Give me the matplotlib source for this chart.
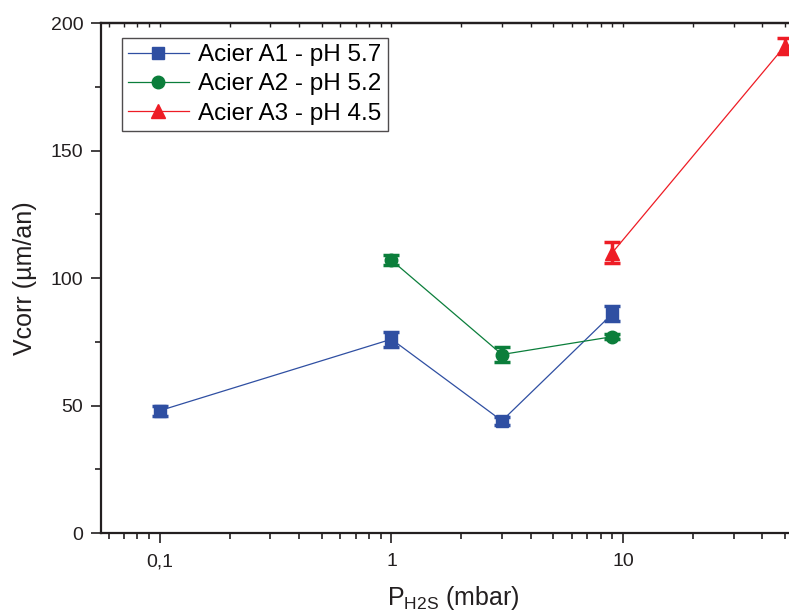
import matplotlib.pyplot as plt
from matplotlib.lines import Line2D
from matplotlib.ticker import FixedLocator, FixedFormatter, LogLocator, NullFormatter

plt.rcParams['font.family'] = ['Liberation Sans', 'DejaVu Sans']
plt.rcParams['mathtext.fontset'] = 'custom'
plt.rcParams['mathtext.rm'] = 'Liberation Sans'
plt.rcParams['mathtext.it'] = 'Liberation Sans'

# data
a1_p = [0.1, 1, 3, 9]
a1_v = [48, 76, 44, 86]
a1_err = [2, 3, 1.5, 3]

a2_p = [1, 3, 9]
a2_v = [107, 70, 77]
a2_err = [2, 3, 1]

a3_p = [9, 50]
a3_v = [110, 191]
a3_err = [4, 3]

x_ticks = [0.1, 1, 10]
x_ticklabels = ['0,1', '1', '10']
y_ticks = [0, 50, 100, 150, 200]
y_minor = [25, 75, 125, 175]

ink = '#231f20'

fig = plt.figure(figsize=(7.89, 6.15), dpi=100)
ax = fig.add_axes([0.1276, 0.1333, 0.894, 0.8293])

series = [
    (a1_p, a1_v, a1_err, '#2f4fa2', 's', 8, 'Acier A1 - pH 5.7'),
    (a2_p, a2_v, a2_err, '#0b7e3b', 'o', 9, 'Acier A2 - pH 5.2'),
    (a3_p, a3_v, a3_err, '#ee1c25', '^', 10, 'Acier A3 - pH 4.5'),
]
handles = []
for p, v, e, c, m, ms, lab in series:
    ax.errorbar(p, v, yerr=e, color=c, marker=m, markersize=ms, lw=0.9,
                elinewidth=2.5, capsize=6, capthick=2.5, clip_on=False)
    handles.append(Line2D([], [], color=c, marker=m, markersize=ms, lw=0.9, label=lab))

ax.set_xscale('log')
ax.set_xlim(0.0555, 61.7)
ax.set_ylim(0, 200)

ax.xaxis.set_major_locator(FixedLocator(x_ticks))
ax.xaxis.set_major_formatter(FixedFormatter(x_ticklabels))
ax.xaxis.set_minor_locator(LogLocator(base=10, subs=range(2, 10), numticks=20))
ax.xaxis.set_minor_formatter(NullFormatter())
ax.set_yticks(y_ticks)
ax.set_yticks(y_minor, minor=True)

ax.tick_params(axis='both', which='major', direction='out', length=7.5, width=1.2,
               labelsize=14, colors=ink, pad=5)
ax.tick_params(axis='both', which='minor', direction='out', length=4.5, width=1.2, colors=ink)
ax.tick_params(axis='x', which='major', pad=7)
for s in ax.spines.values():
    s.set_linewidth(1.6)
    s.set_color(ink)
ax.spines['right'].set_visible(False)

# small inward ticks along the top frame
top = ax.secondary_xaxis('top')
top.xaxis.set_major_locator(FixedLocator(x_ticks))
top.xaxis.set_minor_locator(LogLocator(base=10, subs=range(2, 10), numticks=20))
top.xaxis.set_major_formatter(NullFormatter())
top.xaxis.set_minor_formatter(NullFormatter())
top.tick_params(which='both', direction='in', length=3, width=1.0, colors=ink)
top.spines['top'].set_linewidth(1.6)
top.spines['top'].set_color(ink)

ax.set_xlabel(r'P$_{\mathrm{H2S}}$ (mbar)', fontsize=18, color=ink, labelpad=10)
ax.set_ylabel('Vcorr (µm/an)', fontsize=18, color=ink, labelpad=10)

leg = ax.legend(handles=handles, loc='upper left', bbox_to_anchor=(0.030, 0.9706),
                fontsize=17.5, frameon=True, fancybox=False, edgecolor=ink,
                handlelength=2.5, borderpad=0.25, labelspacing=0.3,
                handletextpad=0.4, borderaxespad=0)
leg.get_frame().set_linewidth(1.0)

fig.savefig('out.png', dpi=100)
